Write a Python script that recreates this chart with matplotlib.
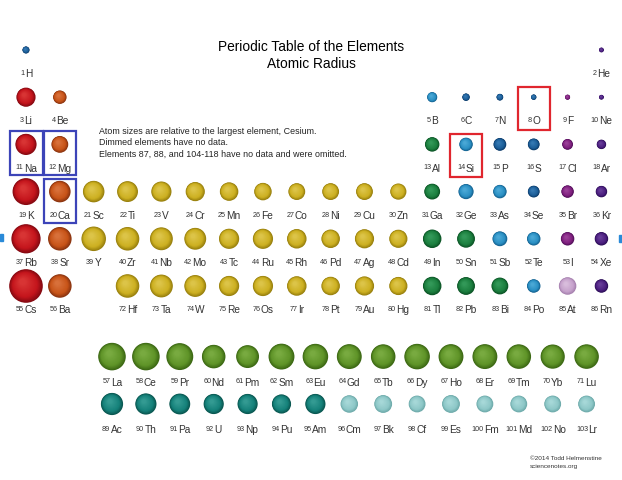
import matplotlib
matplotlib.use('Agg')
import matplotlib.pyplot as plt
from matplotlib.patches import Circle, Rectangle
import matplotlib.colors as mcolors
import numpy as np

plt.rcParams['font.family'] = ['Liberation Sans', 'DejaVu Sans']

# elements shown (87, 88 and 104-118 omitted)
symbols = ['H', 'He',
           'Li', 'Be', 'B', 'C', 'N', 'O', 'F', 'Ne',
           'Na', 'Mg', 'Al', 'Si', 'P', 'S', 'Cl', 'Ar',
           'K', 'Ca', 'Sc', 'Ti', 'V', 'Cr', 'Mn', 'Fe', 'Co', 'Ni', 'Cu', 'Zn', 'Ga', 'Ge', 'As', 'Se', 'Br', 'Kr',
           'Rb', 'Sr', 'Y', 'Zr', 'Nb', 'Mo', 'Tc', 'Ru', 'Rh', 'Pd', 'Ag', 'Cd', 'In', 'Sn', 'Sb', 'Te', 'I', 'Xe',
           'Cs', 'Ba', 'La', 'Ce', 'Pr', 'Nd', 'Pm', 'Sm', 'Eu', 'Gd', 'Tb', 'Dy', 'Ho', 'Er', 'Tm', 'Yb', 'Lu',
           'Hf', 'Ta', 'W', 'Re', 'Os', 'Ir', 'Pt', 'Au', 'Hg', 'Tl', 'Pb', 'Bi', 'Po', 'At', 'Rn',
           'Ac', 'Th', 'Pa', 'U', 'Np', 'Pu', 'Am', 'Cm', 'Bk', 'Cf', 'Es', 'Fm', 'Md', 'No', 'Lr']
numbers = list(range(1, 87)) + list(range(89, 104))

# sphere size relative to cesium
rel_size = [0.21, 0.14,
            0.57, 0.40, 0.30, 0.22, 0.20, 0.16, 0.15, 0.14,
            0.63, 0.50, 0.43, 0.40, 0.38, 0.35, 0.32, 0.28,
            0.80, 0.64, 0.64, 0.62, 0.60, 0.57, 0.55, 0.52, 0.50, 0.50, 0.50, 0.48, 0.47, 0.45, 0.40, 0.35, 0.37, 0.34,
            0.87, 0.70, 0.73, 0.70, 0.68, 0.65, 0.60, 0.60, 0.58, 0.55, 0.57, 0.54, 0.55, 0.53, 0.44, 0.40, 0.40, 0.40,
            1.00, 0.70, 0.82, 0.82, 0.80, 0.70, 0.68, 0.77, 0.76, 0.74, 0.73, 0.76, 0.74, 0.74, 0.73, 0.72, 0.73,
            0.70, 0.68, 0.65, 0.60, 0.60, 0.58, 0.55, 0.57, 0.54, 0.55, 0.53, 0.50, 0.40, 0.52, 0.40,
            0.66, 0.63, 0.62, 0.60, 0.60, 0.57, 0.60, 0.52, 0.53, 0.50, 0.53, 0.50, 0.50, 0.50, 0.50]

category = (['nm', 'ng'] +
            ['alk', 'ae', 'md', 'nm', 'nm', 'nm', 'hal', 'ng'] +
            ['alk', 'ae', 'pt', 'md', 'nm', 'nm', 'hal', 'ng'] +
            ['alk', 'ae'] + ['tm'] * 10 + ['pt', 'md', 'md', 'nm', 'hal', 'ng'] +
            ['alk', 'ae'] + ['tm'] * 10 + ['pt', 'pt', 'md', 'md', 'hal', 'ng'] +
            ['alk', 'ae'] + ['ln'] * 15 + ['tm'] * 9 + ['pt', 'pt', 'pt', 'md', 'dim_hal', 'ng'] +
            ['ac'] * 7 + ['dim_ac'] * 8)

boxed_blue = ['Na', 'Mg', 'Ca']
boxed_red = ['O', 'Si']

notes = ['Atom sizes are relative to the largest element, Cesium.',
         'Dimmed elements have no data.',
         'Elements 87, 88, and 104-118 have no data and were omitted.']

# dark rim, body, highlight
palette = {
    'alk': ('#860a12', '#c4141c', '#d83434'),
    'ae': ('#8a3410', '#c85418', '#d8703a'),
    'tm': ('#98800e', '#cdb021', '#dcc448'),
    'pt': ('#0c5426', '#1c7f3f', '#329858'),
    'md': ('#156290', '#2a90c4', '#4aa8d6'),
    'nm': ('#0c3a68', '#1c5e98', '#3478b2'),
    'hal': ('#52105a', '#80207f', '#9a4098'),
    'ng': ('#2c0e56', '#4c1f80', '#663c98'),
    'ln': ('#3c6814', '#5f9428', '#78aa40'),
    'ac': ('#0a5650', '#15817a', '#339a92'),
    'dim_ac': ('#6eaaaa', '#8ec8c8', '#a6d8d8'),
    'dim_hal': ('#a680ae', '#c6a2cc', '#d8bcdc'),
}


def grid_pos(z):
    # (column, row) in the table; rows 7 and 8 are the f-block rows
    if z == 1:
        return 1, 1
    if z == 2:
        return 18, 1
    if z <= 10:
        return (z - 2 if z <= 4 else z + 8), 2
    if z <= 18:
        return (z - 10 if z <= 12 else z), 3
    if z <= 36:
        return z - 18, 4
    if z <= 54:
        return z - 36, 5
    if 57 <= z <= 71:
        return z - 57, 7
    if 89 <= z <= 103:
        return z - 89, 8
    return (z - 54 if z <= 56 else z - 68), 6


def to_px(col, row):
    if row >= 7:
        return 112 + col * 33.9, 357.6 + (row - 7) * 47.4
    return 26 + (col - 1) * 33.85, 51 + (row - 1) * 47.2


def mix(c1, c2, t):
    a = np.array(mcolors.to_rgb(c1))
    b = np.array(mcolors.to_rgb(c2))
    return tuple(a + (b - a) * t)


def sphere(ax, cx, cy, r, cols):
    dark, body, light = cols
    n = 16
    for i in range(n):
        t = i / (n - 1)
        rad = r * (1 - 0.8 * t)
        if t < 0.3:
            c = mix(dark, body, t / 0.3)
        else:
            c = mix(body, light, (t - 0.3) / 0.7)
        ax.add_patch(Circle((cx - 0.2 * r * t, cy - 0.25 * r * t), rad,
                            facecolor=c, edgecolor='none', lw=0))


fig = plt.figure(figsize=(6.22, 4.81), dpi=100)
ax = fig.add_axes([0, 0, 1, 1])
ax.set_xlim(0, 622)
ax.set_ylim(481, 0)
ax.axis('off')

cs_radius = 16.8
labels = []
for sym, z, s, cat in zip(symbols, numbers, rel_size, category):
    col, row = grid_pos(z)
    cx, cy = to_px(col, row)
    sphere(ax, cx, cy, s * cs_radius, palette[cat])
    base = cy + (28 if row >= 7 else 26.3)
    tn = ax.text(cx, base - 2.3, str(z), fontsize=5.2, color='#333333', va='baseline', ha='left')
    ts = ax.text(cx, base, sym, fontsize=7.3, color='#333333', va='baseline', ha='left')
    labels.append((tn, ts, cx))
    if sym in boxed_blue:
        ax.add_patch(Rectangle((cx - 16, cy - 13), 32.5, 44, fill=False,
                               edgecolor='#3c44b8', lw=1.6))
    if sym in boxed_red:
        ax.add_patch(Rectangle((cx - 16, cy - 10.5), 32, 43.5, fill=False,
                               edgecolor='#e0262e', lw=1.6))

ax.text(311.5, 47, 'Periodic Table of the Elements', ha='center', va='center', fontsize=9.9)
ax.text(311.5, 64, 'Atomic Radius', ha='center', va='center', fontsize=9.9)

for i, line in enumerate(notes):
    ax.text(99, 131.5 + i * 11.2, line, ha='left', va='center', fontsize=6.4, color='#222222')

ax.text(530, 459, '\u00a92014 Todd Helmenstine', ha='left', va='center', fontsize=4.6, color='#333333')
ax.text(530, 467, 'sciencenotes.org', ha='left', va='center', fontsize=4.6, color='#333333')

# small marks at the side edges
ax.add_patch(Rectangle((0, 235), 3, 7, color='#2a8ad8'))
ax.add_patch(Rectangle((619, 236), 3, 7, color='#2a8ad8'))

# center each "number + symbol" label under its sphere
fig.canvas.draw()
renderer = fig.canvas.get_renderer()
for tn, ts, cx in labels:
    w1 = tn.get_window_extent(renderer).width
    w2 = ts.get_window_extent(renderer).width
    left = cx - (w1 + w2) / 2
    tn.set_x(left)
    ts.set_x(left + w1 + 0.3)

fig.savefig('out.png', dpi=100)
